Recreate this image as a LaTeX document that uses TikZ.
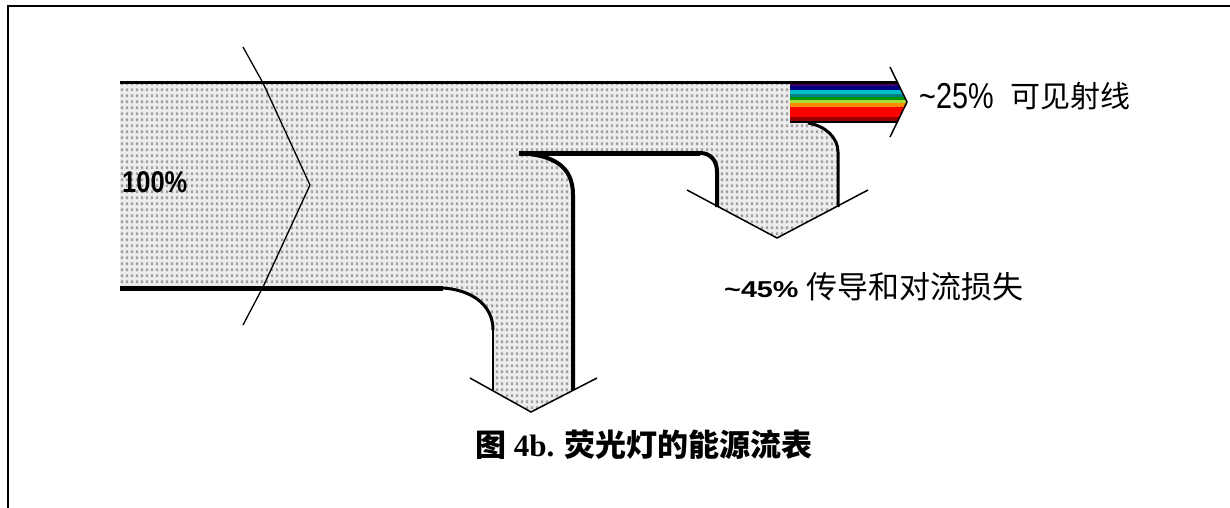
\documentclass[tikz,border=0pt]{standalone}
\usepackage{fontspec}
\usepackage{graphicx}
\setmainfont{Liberation Serif}
\newfontfamily\cjk{Noto Sans CJK SC}
\newfontfamily\pix{Liberation Sans}
\usetikzlibrary{patterns}
\pgfdeclarepatternformonly{halftone}{\pgfpointorigin}{\pgfpoint{5pt}{5.8pt}}{\pgfpoint{5pt}{5.8pt}}{\pgfpathrectangle{\pgfpoint{1pt}{1pt}}{\pgfpoint{2.6pt}{2.8pt}}\pgfusepath{fill}}
\definecolor{spurple}{RGB}{70,0,100}
\definecolor{snavy}{RGB}{0,0,128}
\definecolor{scyan}{RGB}{0,190,200}
\definecolor{steal}{RGB}{0,128,128}
\definecolor{sgreen}{RGB}{0,150,0}
\definecolor{sygreen}{RGB}{170,220,60}
\definecolor{sorange}{RGB}{255,140,0}
\definecolor{sred}{RGB}{255,0,0}
\definecolor{sdred}{RGB}{150,0,0}
\tikzset{
  edge/.style={draw=black,line cap=butt,line join=miter},
  wing/.style={draw=black,line width=1.5pt},
  lbl/.style={inner sep=0pt,anchor=west},
}
\begin{document}
\begin{tikzpicture}[x=1pt,y=-1pt]
\useasboundingbox (0,0) rectangle (1230,508);
% frame
\draw[line width=2pt] (8,508) -- (8,6.5) -- (1230,6.5);
% dotted energy band
\path[preaction={fill=gray!14},pattern=halftone,pattern color=gray!75]
  (120,83) -- (790,83) -- (790,122) -- (808,122)
  .. controls (826,126) and (838,138) .. (838,152) -- (838,207)
  -- (777,238) -- (717,207) -- (717,172)
  .. controls (717,160) and (710,153) .. (700,153) -- (519,153)
  .. controls (552,155) and (573,165) .. (573,195) -- (573,390)
  -- (531,412) -- (493,390) -- (493,330)
  .. controls (493,305) and (472,290) .. (443,288) -- (120,288) -- cycle;
% coloured visible-light band
\begin{scope}
\clip (790,83) -- (898,83) -- (907,102) -- (898,122) -- (790,122) -- cycle;
\fill[spurple] (790,83) rectangle (910,86.5);
\fill[snavy] (790,86.5) rectangle (910,90);
\fill[scyan] (790,90) rectangle (910,94.5);
\fill[steal] (790,94.5) rectangle (910,97.5);
\fill[sgreen] (790,97.5) rectangle (910,100.5);
\fill[sygreen] (790,100.5) rectangle (910,103.3);
\fill[sorange] (790,103.3) rectangle (910,106.8);
\fill[sred] (790,106.8) rectangle (910,117.5);
\fill[sdred] (790,117.5) rectangle (910,122);
\end{scope}
% outlines
\draw[edge,line width=3pt] (120,83) -- (898,83);
\draw[edge,line width=2.5pt] (790,122) -- (898,122);
\draw[edge,line width=5pt] (120,288) -- (443,288);
\draw[edge,line width=3pt] (443,288) .. controls (472,290) and (493,305) .. (493,330);
\draw[edge,line width=2pt] (493,329) -- (493,390);
\draw[edge,line width=5pt] (519,153) -- (700,153);
\draw[edge,line width=4pt] (700,153) .. controls (710,153) and (717,160) .. (717,172) -- (717,207);
\draw[edge,line width=4pt] (519,153) .. controls (552,155) and (573,165) .. (573,195) -- (573,390);
\draw[edge,line width=3pt] (808,123) .. controls (826,126) and (838,138) .. (838,152) -- (838,207);
% arrow heads
\draw[wing] (687,190) -- (777,238) -- (868,190);
\draw[wing] (470,378) -- (531,412) -- (597,378);
\draw[wing] (890,67) -- (907,102) -- (890,137);
% break line
\draw[line width=1.3pt] (243,47) -- (263,83) -- (310,185) -- (263,287) -- (243,325);
% labels
\node[lbl] (p100) at (122,182) {\pix\bfseries\fontsize{30}{30}\selectfont\scalebox{0.85}[1]{100\%}};
\node[lbl] (p25) at (919,96) {\pix\fontsize{36}{36}\selectfont\scalebox{0.8}[1]{\char`\~25\%}};
\node[lbl] (t25) at (1010,96) {\cjk\fontsize{30}{30}\selectfont 可见射线};
\node[lbl] (p45) at (724,290) {\pix\bfseries\fontsize{23}{23}\selectfont\scalebox{1.25}[1]{\char`\~45\%}};
\node[lbl] (t45) at (806,287) {\cjk\fontsize{31}{31}\selectfont 传导和对流损失};
\node[inner sep=0pt] (cap) at (644,445) {\fontsize{31}{31}\selectfont\bfseries{\cjk 图} 4b. {\cjk 荧光灯的能源流表}};
\end{tikzpicture}
\end{document}
